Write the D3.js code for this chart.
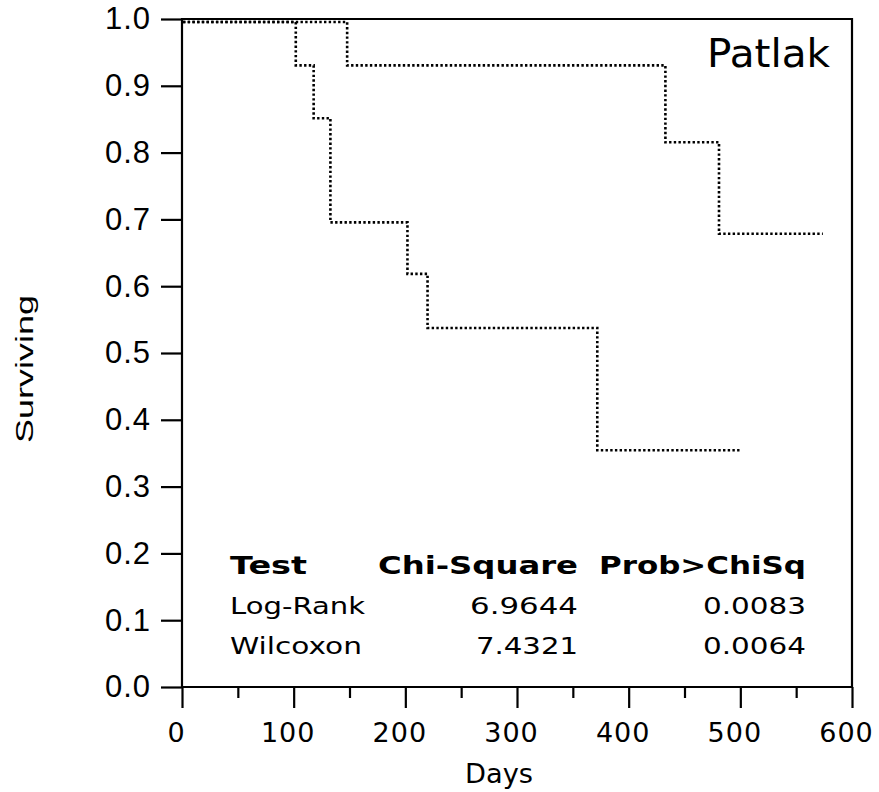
<!DOCTYPE html>
<html>
<head>
<meta charset="utf-8">
<script src="https://cdn.jsdelivr.net/npm/d3@7"></script>
<style>
  body { margin: 0; background: #fff; }
</style>
</head>
<body>
<div id="chart"></div>
<script>
(function() {

// group with the later failures (upper curve)
const upperDays = [0, 147, 432, 480, 573]
const upperSurv = [1.0, 0.935, 0.820, 0.683, 0.683]

// group with the early failures (lower curve)
const lowerDays = [0, 101, 117, 132, 201, 219, 371, 500]
const lowerSurv = [1.0, 0.935, 0.856, 0.700, 0.623, 0.542, 0.359, 0.359]

const yTicks = [0, 0.1, 0.2, 0.3, 0.4, 0.5, 0.6, 0.7, 0.8, 0.9, 1.0]
const xMajor = [0, 100, 200, 300, 400, 500, 600]
const xMinor = [50, 150, 250, 350, 450, 550]

const testHeader = ['Test', 'Chi-Square', 'Prob>ChiSq']
const testNames = ['Log-Rank', 'Wilcoxon']
const chiSquare = ['6.9644', '7.4321']
const probChi = ['0.0083', '0.0064']

const width = 879,
      height = 792

const svg = d3.select('#chart')
  .append('svg')
  .attr('width', width)
  .attr('height', height)

svg.append('rect')
  .attr('width', width)
  .attr('height', height)
  .attr('fill', '#fff')

const x = d3.scaleLinear().domain([0, 600]).range([182, 852])
const y = d3.scaleLinear().domain([0, 1]).range([687, 19])

// frame
svg.append('path')
  .attr('d', 'M' + x(0) + ',' + y(1) + 'H' + x(600) + 'V' + y(0) + 'H' + x(0) + 'Z')
  .attr('fill', 'none')
  .attr('stroke', '#000')
  .attr('stroke-width', 2.2)

// y axis
svg.append('g')
  .attr('transform', 'translate(' + x(0) + ',0)')
  .call(d3.axisLeft(y).tickValues(yTicks).tickSize(21).tickPadding(10)
    .tickFormat(d3.format('.1f')))
  .call(g => g.select('.domain').remove())
  .call(g => g.selectAll('line').attr('stroke-width', 2.2))
  .call(g => g.selectAll('text')
    .attr('font-family', 'Liberation Sans, Arial, sans-serif')
    .attr('font-size', 31)
    .attr('letter-spacing', 1)
    .attr('fill', '#000'))

// x axis, major ticks
svg.append('g')
  .attr('transform', 'translate(0,' + y(0) + ')')
  .call(d3.axisBottom(x).tickValues(xMajor).tickSize(21).tickPadding(15)
    .tickFormat(d3.format('d')))
  .call(g => g.select('.domain').remove())
  .call(g => g.selectAll('line').attr('stroke-width', 2.2))
  .call(g => g.selectAll('text')
    .attr('dx', -6)
    .attr('font-family', 'DejaVu Sans, sans-serif')
    .attr('font-size', 27)
    .attr('letter-spacing', 1)
    .attr('fill', '#000'))

// x axis, minor ticks
svg.append('g')
  .attr('transform', 'translate(0,' + y(0) + ')')
  .call(d3.axisBottom(x).tickValues(xMinor).tickSize(11).tickFormat(''))
  .call(g => g.select('.domain').remove())
  .call(g => g.selectAll('line').attr('stroke-width', 2.2))

// survival step curves
const line = d3.line()
  .x(d => x(d[0]))
  .y(d => y(d[1]))
  .curve(d3.curveStepAfter)

const curves = svg.append('g')
  .attr('transform', 'translate(1,3)')

curves.append('path')
  .datum(d3.zip(upperDays, upperSurv))
  .attr('d', line)
  .attr('fill', 'none')
  .attr('stroke', '#000')
  .attr('stroke-width', 2.6)
  .attr('stroke-dasharray', '2.4,2.3')

curves.append('path')
  .datum(d3.zip(lowerDays, lowerSurv))
  .attr('d', line)
  .attr('fill', 'none')
  .attr('stroke', '#000')
  .attr('stroke-width', 2.6)
  .attr('stroke-dasharray', '2.4,2.3')

// labels
svg.append('text')
  .attr('x', 830)
  .attr('y', 67)
  .attr('text-anchor', 'end')
  .attr('font-family', 'DejaVu Sans, sans-serif')
  .attr('font-size', 39)
  .attr('textLength', 123)
  .attr('lengthAdjust', 'spacingAndGlyphs')
  .text('Patlak')

svg.append('text')
  .attr('transform', 'translate(33,369) rotate(-90)')
  .attr('text-anchor', 'middle')
  .attr('font-family', 'Liberation Sans, Arial, sans-serif')
  .attr('font-size', 23)
  .attr('textLength', 148)
  .attr('lengthAdjust', 'spacingAndGlyphs')
  .text('Surviving')

svg.append('text')
  .attr('x', 499)
  .attr('y', 783)
  .attr('text-anchor', 'middle')
  .attr('font-family', 'DejaVu Sans, sans-serif')
  .attr('font-size', 26)
  .attr('textLength', 68)
  .attr('lengthAdjust', 'spacingAndGlyphs')
  .text('Days')

// test table
const table = svg.append('g')
  .attr('font-family', 'DejaVu Sans, sans-serif')
  .attr('fill', '#000')

const headX = [230, 578, 806]
const headW = [77, 200, 207]
const headAnchor = ['start', 'end', 'end']

table.selectAll('.head')
  .data(testHeader)
  .enter()
  .append('text')
  .attr('class', 'head')
  .attr('x', (d, i) => headX[i])
  .attr('y', 574)
  .attr('text-anchor', (d, i) => headAnchor[i])
  .attr('font-size', 24)
  .attr('font-weight', 'bold')
  .attr('textLength', (d, i) => headW[i])
  .attr('lengthAdjust', 'spacingAndGlyphs')
  .text(d => d)

const rowY = [614, 654]

testNames.forEach(function(name, i) {
  table.append('text')
    .attr('x', 230)
    .attr('y', rowY[i])
    .attr('font-size', 23)
    .attr('textLength', i === 0 ? 135 : 132)
    .attr('lengthAdjust', 'spacingAndGlyphs')
    .text(name)

  table.append('text')
    .attr('x', 578)
    .attr('y', rowY[i])
    .attr('text-anchor', 'end')
    .attr('font-size', 23)
    .attr('textLength', i === 0 ? 108 : 102)
    .attr('lengthAdjust', 'spacingAndGlyphs')
    .text(chiSquare[i])

  table.append('text')
    .attr('x', 806)
    .attr('y', rowY[i])
    .attr('text-anchor', 'end')
    .attr('font-size', 23)
    .attr('textLength', 103)
    .attr('lengthAdjust', 'spacingAndGlyphs')
    .text(probChi[i])
})

})()
</script>
</body>
</html>
